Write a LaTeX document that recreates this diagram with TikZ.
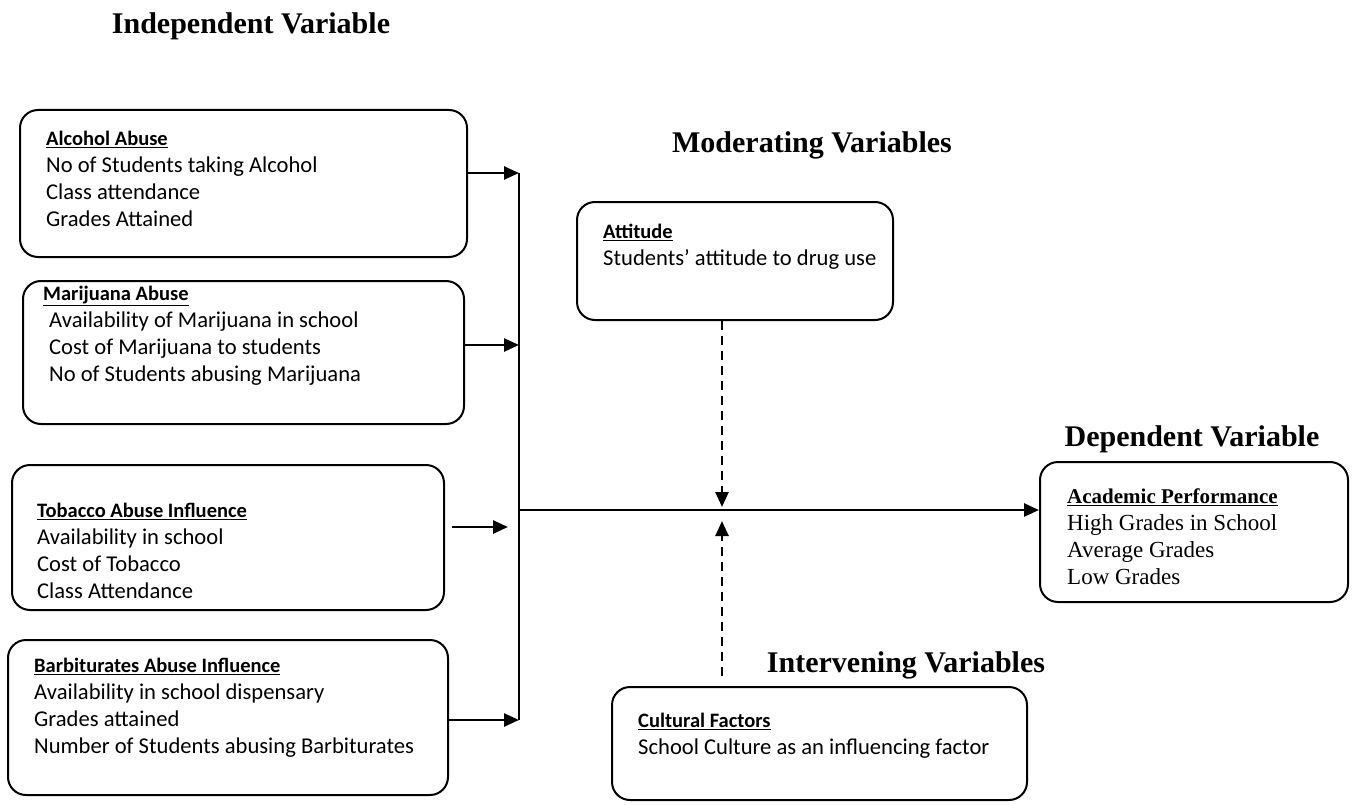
\documentclass[tikz,border=0pt]{standalone}
\usepackage{fontspec}
\setmainfont{Liberation Serif}
\newfontfamily\calfont{Carlito}
\usetikzlibrary{arrows.meta,calc,fit}
\tikzset{
  box/.style={draw, line width=2pt, rounded corners=18pt, inner sep=0pt},
  head/.style={font=\bfseries\fontsize{30}{36}\selectfont, inner sep=0pt, anchor=base},
  txt/.style={font=\calfont\fontsize{22.6}{27}\selectfont, align=left, inner sep=0pt, anchor=north west},
  dtxt/.style={font=\fontsize{23}{27}\selectfont, align=left, inner sep=0pt, anchor=north west},
  conn/.style={line width=2.5pt, -{Triangle[length=15pt,width=13pt]}},
  busline/.style={line width=2.5pt},
  dasharrow/.style={line width=2.5pt, dash pattern=on 9pt off 6pt, -{Triangle[length=15pt,width=13pt]}},
}
\newcommand\ttl[1]{{\bfseries\fontsize{20.5}{27}\selectfont\underline{#1}}}
\newcommand\dttl[1]{{\bfseries\fontsize{21}{27}\selectfont\underline{#1}}}
\newcommand\fr{\rule{0pt}{18pt}}
\begin{document}
\begin{tikzpicture}[x=1pt,y=-1pt]
\useasboundingbox (0,0) rectangle (1356,805);
% headings
\node[head] (indep) at (251,34) {Independent Variable};
\node[head] (modv) at (812,153) {Moderating Variables};
\node[head] (depv) at (1192,446) {Dependent Variable};
\node[head] (intv) at (906,672) {Intervening Variables};
% boxes
\node[box, fit={(20,110) (467,257)}] (alc) {};
\node[box, fit={(23,281) (464,424)}] (mar) {};
\node[box, fit={(12,465) (444,610)}] (tob) {};
\node[box, fit={(8,640) (448,795)}] (bar) {};
\node[box, fit={(577,202) (893,320)}] (att) {};
\node[box, fit={(612,687) (1027,800)}] (cul) {};
\node[box, fit={(1040,462) (1348,602)}] (dep) {};
% texts
\node[txt] (alct) at (46,127) {\fr\ttl{Alcohol Abuse}\\No of Students taking Alcohol\\Class attendance\\Grades Attained};
\node[txt] (mart) at (43,282) {\fr\ttl{Marijuana Abuse}\\\hspace*{6pt}Availability of Marijuana in school\\\hspace*{6pt}Cost of Marijuana to students\\\hspace*{6pt}No of Students abusing Marijuana};
\node[txt] (tobt) at (37,499) {\fr\ttl{Tobacco Abuse Influence}\\Availability in school\\Cost of Tobacco\\Class Attendance};
\node[txt] (bart) at (34,654) {\fr\ttl{Barbiturates Abuse Influence}\\Availability in school dispensary\\Grades attained\\Number of Students abusing Barbiturates};
\node[txt] (attt) at (603,220) {\fr\ttl{Attitude}\\Students’ attitude to drug use};
\node[txt] (cult) at (638,709) {\fr\ttl{Cultural Factors}\\School Culture as an influencing factor};
\node[dtxt] (dept) at (1067,485) {\fr\dttl{Academic Performance}\\High Grades in School\\Average Grades\\Low Grades};
% connectors
\coordinate (bt) at (519,173);
\coordinate (bmar) at (519,345);
\coordinate (bm) at (519,510);
\coordinate (bb) at (519,720);
\coordinate (ts) at (452,527);
\coordinate (te) at (508,527);
\coordinate (jn) at (722,510);
\draw[busline] (bt) -- (bb);
\draw[conn] (alc.east |- bt) -- (bt);
\draw[conn] (mar.east |- bmar) -- (bmar);
\draw[conn] (bar.east |- bb) -- (bb);
\draw[conn] (ts) -- (te);
\draw[conn] (bm) -- (bm -| dep.west);
\draw[dasharrow] (att.south -| jn) -- ($(jn)+(0,-3)$);
\draw[dasharrow, shorten <=10pt] (cul.north -| jn) -- ($(jn)+(0,11)$);
\end{tikzpicture}
\end{document}
